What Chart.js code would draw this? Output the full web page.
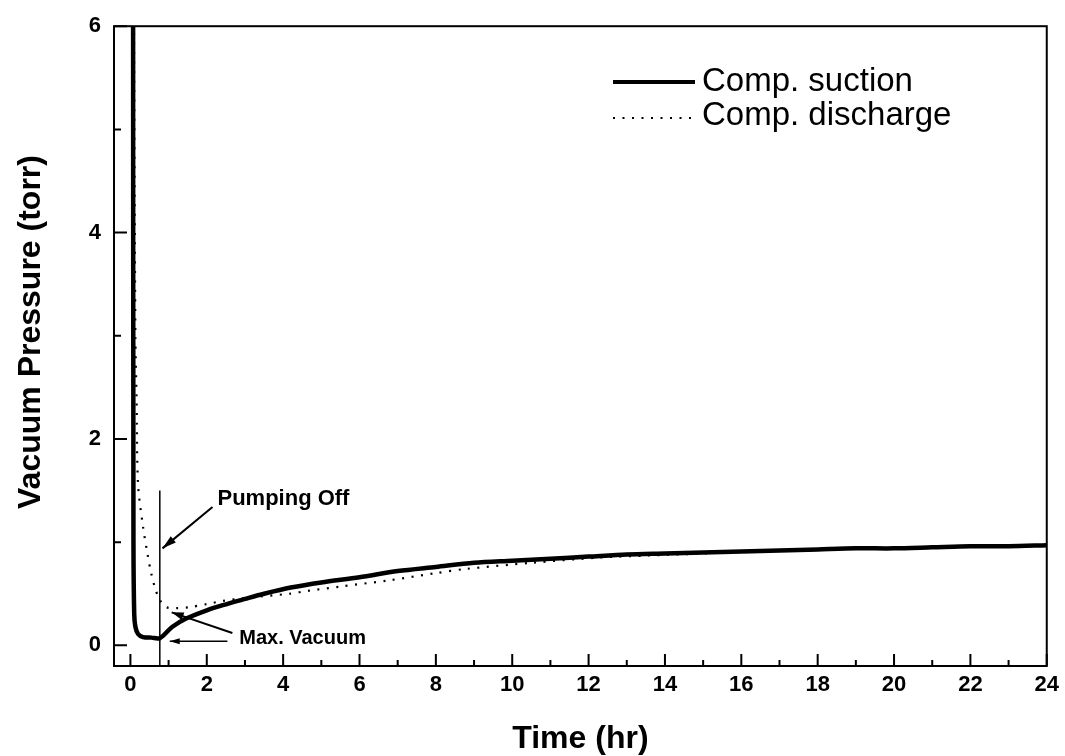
<!DOCTYPE html>
<html><head><meta charset="utf-8">
<script src="https://cdn.jsdelivr.net/npm/chart.js@4/dist/chart.umd.min.js"></script>
<style>html,body{margin:0;padding:0;background:#fff}</style>
</head><body>
<canvas id="c" width="1065" height="756"></canvas>
<script>
// ---- data ----
const seriesNames = ["Comp. suction", "Comp. discharge"];
const suctionX = [0.07, 0.08, 0.10, 0.13, 0.20, 0.33, 0.55, 0.77, 1.10, 1.46, 2.00, 2.42, 3.00, 3.50, 4.20, 5.00, 6.00, 7.00, 8.00, 9.00, 10.0, 11.0, 12.0, 13.0, 14.0, 15.0, 16.0, 17.0, 18.0, 19.0, 20.0, 21.0, 22.0, 23.0, 24.0];
const suctionY = [6.30, 1.00, 0.30, 0.18, 0.11, 0.08, 0.075, 0.07, 0.18, 0.26, 0.34, 0.39, 0.45, 0.50, 0.56, 0.61, 0.66, 0.72, 0.76, 0.80, 0.82, 0.84, 0.86, 0.88, 0.89, 0.90, 0.91, 0.92, 0.93, 0.94, 0.94, 0.95, 0.96, 0.96, 0.97];
const dischargeX = [0.09, 0.13, 0.16, 0.20, 0.33, 0.45, 0.55, 0.65, 0.77, 0.94, 1.20, 1.55, 2.00, 2.42, 3.00, 4.16, 4.68, 5.50, 6.77, 8.00, 8.77, 10.5, 12.25, 13.5, 15.0, 16.0, 17.0, 18.0, 19.0, 20.0, 21.0, 22.0, 23.0, 24.0];
const dischargeY = [6.30, 3.00, 2.40, 1.56, 1.15, 0.88, 0.69, 0.55, 0.44, 0.37, 0.36, 0.37, 0.40, 0.43, 0.46, 0.50, 0.53, 0.57, 0.63, 0.70, 0.74, 0.80, 0.85, 0.87, 0.89, 0.91, 0.92, 0.93, 0.94, 0.94, 0.95, 0.96, 0.96, 0.97];
const xTickLabels = [0, 2, 4, 6, 8, 10, 12, 14, 16, 18, 20, 22, 24];
const xMinorTicks = [1, 3, 5, 7, 9, 11, 13, 15, 17, 19, 21, 23];
const yTickLabels = [0, 2, 4, 6];
const yMinorTicks = [1, 3, 5];
const xTitle = "Time (hr)";
const yTitle = "Vacuum Pressure (torr)";
// annotations (data units)
const pumpOffX = 0.77, pumpOffTop = 1.5;
const pumpLabel = {text: "Pumping Off", x: 2.28, y: 1.42, from: [2.15, 1.34], to: [0.84, 0.94]};
const vacLabel = {text: "Max. Vacuum", x: 2.85, y: 0.065, arrow1: [[2.54, 0.04], [1.03, 0.04]], arrow2: [[2.67, 0.12], [1.08, 0.32]]};

const toPts = (xs, ys) => xs.map((x, i) => ({x: x, y: ys[i]}));
const FONT = "'Liberation Sans', Arial, Helvetica, sans-serif";

function arrowHead(ctx, x1, y1, x2, y2, len, wid) {
  const a = Math.atan2(y2 - y1, x2 - x1);
  ctx.beginPath();
  ctx.moveTo(x2, y2);
  ctx.lineTo(x2 - len * Math.cos(a) + wid * Math.sin(a), y2 - len * Math.sin(a) - wid * Math.cos(a));
  ctx.lineTo(x2 - len * Math.cos(a) - wid * Math.sin(a), y2 - len * Math.sin(a) + wid * Math.cos(a));
  ctx.closePath();
  ctx.fill();
}

const decor = {
  id: 'decor',
  afterDatasetsDraw(chart) {
    const ctx = chart.ctx, xs = chart.scales.x, ys = chart.scales.y, ca = chart.chartArea;
    ctx.save();
    ctx.strokeStyle = '#000'; ctx.fillStyle = '#000';
    // frame
    ctx.lineWidth = 2;
    ctx.strokeRect(ca.left, ca.top, ca.right - ca.left, ca.bottom - ca.top);
    // ticks (inward)
    ctx.beginPath();
    xTickLabels.forEach(v => { const p = xs.getPixelForValue(v); ctx.moveTo(p, ca.bottom); ctx.lineTo(p, ca.bottom - 12); });
    xMinorTicks.forEach(v => { const p = xs.getPixelForValue(v); ctx.moveTo(p, ca.bottom); ctx.lineTo(p, ca.bottom - 6); });
    yTickLabels.forEach(v => { const p = ys.getPixelForValue(v); ctx.moveTo(ca.left, p); ctx.lineTo(ca.left + 13, p); });
    yMinorTicks.forEach(v => { const p = ys.getPixelForValue(v); ctx.moveTo(ca.left, p); ctx.lineTo(ca.left + 7, p); });
    ctx.stroke();
    // pumping off line
    ctx.lineWidth = 1.5;
    ctx.beginPath();
    const px = xs.getPixelForValue(pumpOffX);
    ctx.moveTo(px, ys.getPixelForValue(pumpOffTop)); ctx.lineTo(px, ca.bottom);
    ctx.stroke();
    // pumping off arrow
    let a1 = xs.getPixelForValue(pumpLabel.from[0]), b1 = ys.getPixelForValue(pumpLabel.from[1]);
    let a2 = xs.getPixelForValue(pumpLabel.to[0]), b2 = ys.getPixelForValue(pumpLabel.to[1]);
    ctx.lineWidth = 2;
    ctx.beginPath(); ctx.moveTo(a1, b1); ctx.lineTo(a2, b2); ctx.stroke();
    arrowHead(ctx, a1, b1, a2, b2, 14, 4);
    // max vacuum arrows
    const ar = vacLabel.arrow1;
    a1 = xs.getPixelForValue(ar[0][0]); b1 = ys.getPixelForValue(ar[0][1]);
    a2 = xs.getPixelForValue(ar[1][0]); b2 = ys.getPixelForValue(ar[1][1]);
    ctx.lineWidth = 1.5;
    ctx.beginPath(); ctx.moveTo(a1, b1); ctx.lineTo(a2, b2); ctx.stroke();
    arrowHead(ctx, a1, b1, a2, b2, 10, 3);
    const br = vacLabel.arrow2;
    a1 = xs.getPixelForValue(br[0][0]); b1 = ys.getPixelForValue(br[0][1]);
    a2 = xs.getPixelForValue(br[1][0]); b2 = ys.getPixelForValue(br[1][1]);
    ctx.lineWidth = 2;
    ctx.beginPath(); ctx.moveTo(a1, b1); ctx.lineTo(a2, b2); ctx.stroke();
    arrowHead(ctx, a1, b1, a2, b2, 12, 4);
    // labels
    ctx.textBaseline = 'middle'; ctx.textAlign = 'left';
    ctx.font = "bold 22px " + FONT;
    ctx.fillText(pumpLabel.text, xs.getPixelForValue(pumpLabel.x), ys.getPixelForValue(pumpLabel.y));
    ctx.font = "bold 20px " + FONT;
    ctx.fillText(vacLabel.text, xs.getPixelForValue(vacLabel.x), ys.getPixelForValue(vacLabel.y));
    // legend
    const ds = chart.data.datasets;
    const lx0 = 613, lx1 = 695, ly = [82, 116];
    ctx.font = "33px " + FONT;
    ds.forEach((d, i) => {
      ctx.save();
      ctx.lineWidth = i === 0 ? 4 : 2;
      ctx.setLineDash(d.borderDash || []);
      ctx.beginPath(); ctx.moveTo(lx0, ly[i] + (i ? 2 : 0)); ctx.lineTo(lx1, ly[i] + (i ? 2 : 0)); ctx.stroke();
      ctx.restore();
      ctx.fillText(d.label, 702, ly[i]);
    });
    // y title
    ctx.save();
    ctx.translate(31, 332);
    ctx.rotate(-Math.PI / 2);
    ctx.textAlign = 'center'; ctx.textBaseline = 'middle';
    ctx.font = "bold 32px " + FONT;
    ctx.fillText(yTitle, 0, 0);
    ctx.restore();
    ctx.restore();
  }
};

new Chart(document.getElementById('c'), {
  type: 'scatter',
  data: {
    datasets: [
      {label: seriesNames[0], data: toPts(suctionX, suctionY), showLine: true, borderColor: '#000', borderWidth: 4.5, pointRadius: 0, tension: 0.3, clip: 0},
      {label: seriesNames[1], data: toPts(dischargeX, dischargeY), showLine: true, borderColor: '#000', borderWidth: 2.2, borderDash: [2, 7.5], pointRadius: 0, tension: 0.3, clip: 0}
    ]
  },
  options: {
    responsive: false, animation: false, devicePixelRatio: 1,
    layout: {padding: {left: 0, top: 25, right: 14, bottom: 0}},
    plugins: {legend: {display: false}, tooltip: {enabled: false}},
    scales: {
      x: {
        type: 'linear', min: -0.43, max: 24,
        afterFit: s => { s.height = 90; },
        afterBuildTicks: s => { s.ticks = xTickLabels.map(v => ({value: v})); },
        grid: {display: false, drawTicks: false},
        border: {display: false},
        ticks: {color: '#000', padding: 6, maxRotation: 0, autoSkip: false, font: {family: FONT, size: 22, weight: 'bold'}},
        title: {display: true, text: xTitle, color: '#000', padding: {top: 0, bottom: 1}, font: {family: FONT, size: 32, weight: 'bold', lineHeight: 1}}
      },
      y: {
        type: 'linear', min: -0.2, max: 6,
        afterFit: s => { s.width = 114; },
        afterBuildTicks: s => { s.ticks = yTickLabels.map(v => ({value: v})); },
        grid: {display: false, drawTicks: false},
        border: {display: false},
        ticks: {color: '#000', padding: 13, font: {family: FONT, size: 22, weight: 'bold'}},
        title: {display: false}
      }
    }
  },
  plugins: [decor]
});
</script>
</body></html>
